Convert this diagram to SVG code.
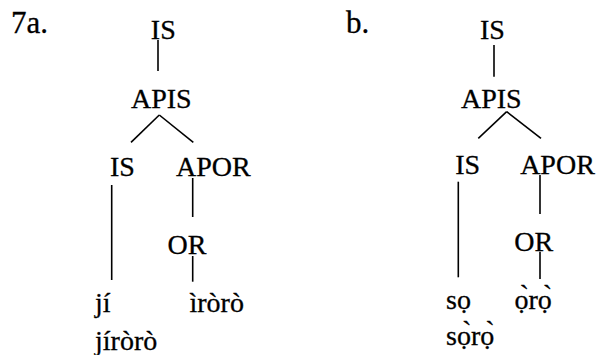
<svg xmlns="http://www.w3.org/2000/svg" width="598" height="355" viewBox="0 0 598 355">
<style>
text { font-family: "Liberation Serif", "Times New Roman", Times, serif; font-size: 28px; fill: #000; stroke: #000; stroke-width: 0.3; }
.lab { font-size: 31px; }
.m { text-anchor: middle; }
.edge { stroke: #000; stroke-width: 1.6; fill: none; }
</style>
<rect width="598" height="355" fill="#fff"/>
<g id="connectors">
<line class="edge" x1="158" y1="40" x2="158" y2="71"/>
<line class="edge" x1="159.3" y1="115" x2="131" y2="142.3"/>
<line class="edge" x1="159.3" y1="115" x2="193.3" y2="142.3"/>
<line class="edge" x1="111.7" y1="185" x2="111.7" y2="280"/>
<line class="edge" x1="192.7" y1="178" x2="192.7" y2="217"/>
<line class="edge" x1="192.7" y1="256" x2="192.7" y2="281.7"/>
<line class="edge" x1="494" y1="45" x2="494" y2="76.7"/>
<line class="edge" x1="506.7" y1="111.7" x2="478.3" y2="138.3"/>
<line class="edge" x1="506.7" y1="111.7" x2="541" y2="138.3"/>
<line class="edge" x1="458.3" y1="181.7" x2="458.3" y2="277.3"/>
<line class="edge" x1="540" y1="175" x2="540" y2="214"/>
<line class="edge" x1="540" y1="251.7" x2="540" y2="279"/>
</g>
<g id="label-a"><text class="lab" x="11" y="33">7a.</text></g>
<g id="a-IS-top"><text class="m" x="163.3" y="39.3">IS</text></g>
<g id="a-APIS"><text class="m" x="161.3" y="108">APIS</text></g>
<g id="a-IS"><text class="m" x="122.5" y="176">IS</text></g>
<g id="a-APOR"><text class="m" x="213.3" y="176">APOR</text></g>
<g id="a-OR"><text class="m" x="187" y="254">OR</text></g>
<g id="a-ji"><text x="95" y="311.7">jí</text></g>
<g id="a-iroro"><text x="189.5" y="311.7">ìròrò</text></g>
<g id="a-jiroro"><text x="95" y="350">jíròrò</text></g>
<g id="label-b"><text class="lab" x="346" y="33.3">b.</text></g>
<g id="b-IS-top"><text class="m" x="492.5" y="39.3">IS</text></g>
<g id="b-APIS"><text class="m" x="491.3" y="108.3">APIS</text></g>
<g id="b-IS"><text class="m" x="467.7" y="174">IS</text></g>
<g id="b-APOR"><text class="m" x="557.5" y="174">APOR</text></g>
<g id="b-OR"><text class="m" x="533.8" y="250.7">OR</text></g>
<g id="b-so"><text x="446" y="308.5">sọ</text></g>
<g id="b-oro"><text x="514.5" y="308.5">ọ̀rọ̀</text></g>
<g id="b-soro"><text x="446" y="345">sọ̀rọ̀</text></g>
</svg>
